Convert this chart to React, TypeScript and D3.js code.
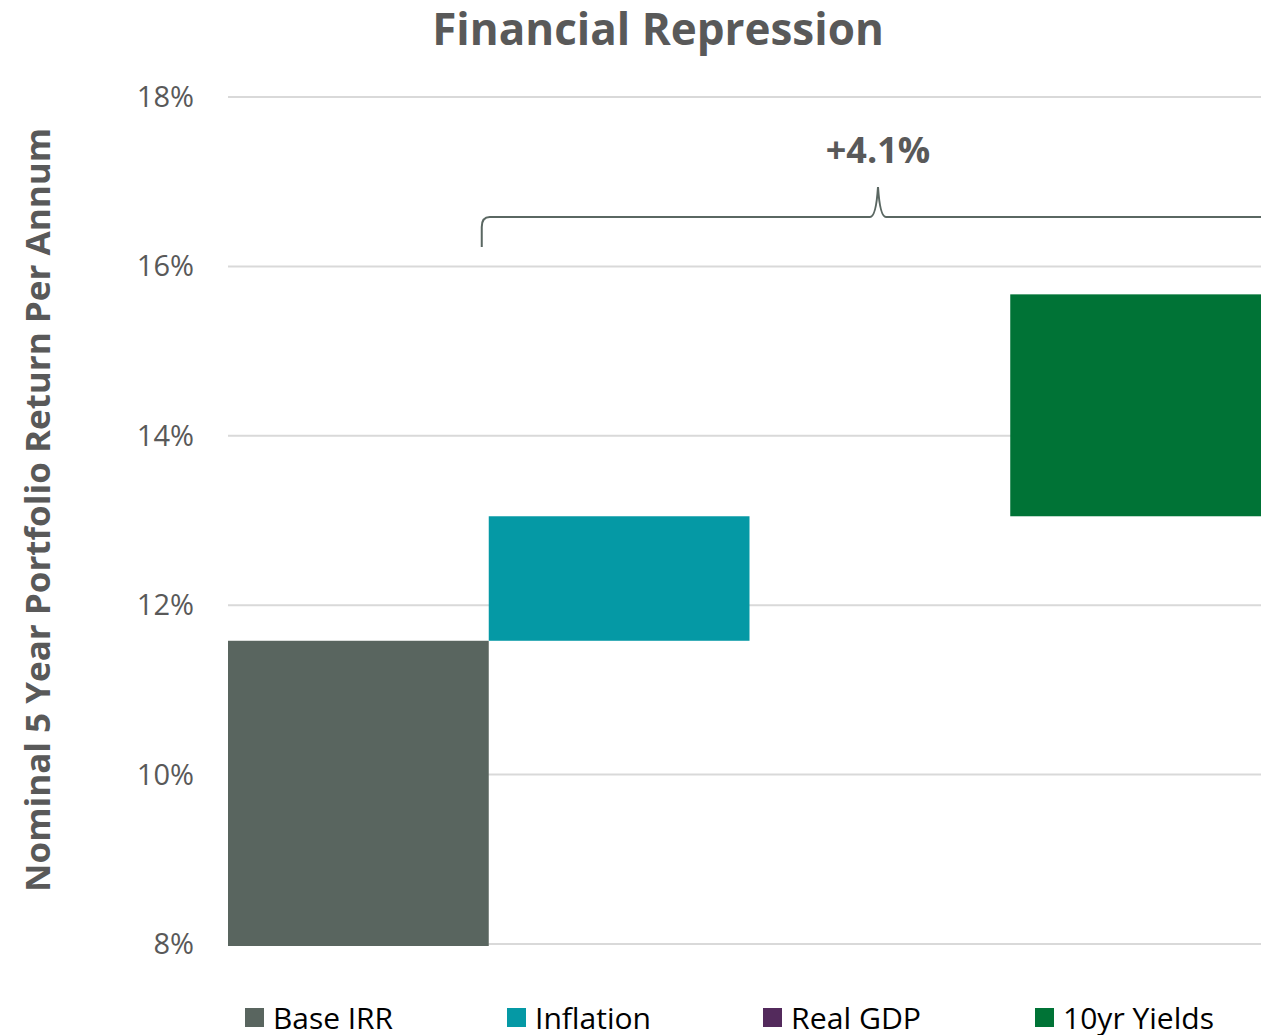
import React from "react";
import * as d3 from "d3";

const categories = ["Base IRR", "Inflation", "Real GDP", "10yr Yields"];
const deltas = [11.58, 1.47, 0.0, 2.62];
const colors = ["#59655f", "#0599a5", "#532a5c", "#007336"];
const yTicks = [8, 10, 12, 14, 16, 18];
const title = "Financial Repression";
const yLabel = "Nominal 5 Year Portfolio Return Per Annum";
const braceLabel = "+4.1%";

const W = 1261;
const H = 1035;
const FONT = "'Open Sans', 'Noto Sans', sans-serif";
const TXT = "#595959";

export default function App() {
  const x = d3.scaleBand<string>().domain(categories).range([228, 1271]).paddingInner(0).paddingOuter(0);
  const y = d3.scaleLinear().domain([8, 18]).range([944, 97]);

  let cum = 8;
  const bars = categories.map((c, i) => {
    const start = i === 0 ? 8 : cum;
    const end = i === 0 ? deltas[0] : cum + deltas[i];
    cum = end;
    return { c, start, end, color: colors[i] };
  });

  const braceY = 217;
  const bx0 = (x(categories[1]) as number) - 7;
  const bx1 = 1271;
  const bmid = 878;
  const bracePath = `M${bx0},247 L${bx0},${braceY + 10} Q${bx0},${braceY} ${bx0 + 8},${braceY} L${bmid - 8},${braceY} Q${bmid - 2},${braceY} ${bmid},${braceY - 30} Q${bmid + 2},${braceY} ${bmid + 8},${braceY} L${bx1},${braceY}`;

  const legendX = [245, 507, 763, 1035];
  const legendW = [120, 116, 130, 151];

  return (
    <div style={{ position: "absolute", left: 0, top: 0 }}>
      <svg width={W} height={H} style={{ display: "block", background: "#fff" }}>
        <text x={658} y={45} textAnchor="middle" fontFamily={FONT} fontWeight={700} fontSize={44} fill={TXT}>
          {title}
        </text>
        {yTicks.map((t) => (
          <g key={t}>
            <line x1={228} x2={W} y1={y(t)} y2={y(t)} stroke="#d9d9d9" strokeWidth={2} />
            <text x={194} y={y(t) + 10} textAnchor="end" fontFamily={FONT} fontSize={29} fill={TXT}>
              {t}%
            </text>
          </g>
        ))}
        {bars.map((b) => (
          <rect
            key={b.c}
            x={x(b.c)}
            width={x.bandwidth()}
            y={y(Math.max(b.start, b.end))}
            height={Math.abs(y(b.start) - y(b.end)) + (b.start === 8 ? 2 : 0)}
            fill={b.color}
          />
        ))}
        <text
          transform={`translate(50,${510}) rotate(-90)`}
          textAnchor="middle"
          fontFamily={FONT}
          fontWeight={700}
          fontSize={34}
          fill={TXT}
          textLength={764}
          lengthAdjust="spacingAndGlyphs"
        >
          {yLabel}
        </text>
        <path d={bracePath} fill="none" stroke="#5a6762" strokeWidth={2} />
        <text x={bmid} y={163} textAnchor="middle" fontFamily={FONT} fontWeight={700} fontSize={36} fill={TXT}>
          {braceLabel}
        </text>
        {categories.map((c, i) => (
          <g key={c}>
            <rect x={legendX[i]} y={1008} width={19} height={19} fill={colors[i]} />
            <text
              x={legendX[i] + 28}
              y={1029}
              fontFamily={FONT}
              fontSize={30}
              fill="#000"
              textLength={legendW[i]}
              lengthAdjust="spacingAndGlyphs"
            >
              {c}
            </text>
          </g>
        ))}
      </svg>
    </div>
  );
}
